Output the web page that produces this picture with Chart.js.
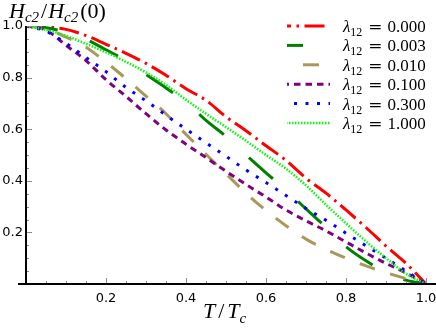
<!DOCTYPE html>
<html>
<head>
<meta charset="utf-8">
<script src="https://cdn.jsdelivr.net/npm/chart.js@4.4.0/dist/chart.umd.min.js"></script>
<style>
  html, body { margin: 0; padding: 0; background: #fff; }
  #wrap { width: 436px; height: 328px; }
</style>
</head>
<body>
<div id="wrap"><canvas id="hc2" width="436" height="328"></canvas></div>
<script>
// reduced temperature T/Tc
const temps = [0.00, 0.05, 0.10, 0.15, 0.20, 0.25, 0.30, 0.35, 0.40, 0.45, 0.50,
               0.55, 0.60, 0.65, 0.70, 0.75, 0.80, 0.85, 0.90, 0.95, 1.00];

// Hc2(T)/Hc2(0), one list per interband coupling
const hc2_000 = [1.000, 0.997, 0.987, 0.963, 0.929, 0.894, 0.855, 0.809, 0.757, 0.712, 0.648,
                 0.594, 0.536, 0.479, 0.410, 0.352, 0.287, 0.219, 0.147, 0.080, 0.000];
const hc2_003 = [1.000, 0.993, 0.976, 0.948, 0.908, 0.865, 0.812, 0.760, 0.705, 0.634, 0.572,
                 0.500, 0.431, 0.364, 0.291, 0.220, 0.145, 0.090, 0.045, 0.015, 0.000];
const hc2_010 = [1.000, 0.990, 0.957, 0.918, 0.860, 0.796, 0.728, 0.660, 0.580, 0.503, 0.427,
                 0.352, 0.285, 0.226, 0.174, 0.134, 0.100, 0.070, 0.044, 0.021, 0.000];
const hc2_100 = [1.000, 0.984, 0.925, 0.866, 0.792, 0.727, 0.660, 0.597, 0.542, 0.490, 0.437,
                 0.386, 0.337, 0.287, 0.245, 0.206, 0.163, 0.120, 0.080, 0.043, 0.000];
const hc2_300 = [1.000, 0.980, 0.933, 0.878, 0.823, 0.762, 0.710, 0.654, 0.600, 0.547, 0.495,
                 0.442, 0.393, 0.343, 0.293, 0.247, 0.197, 0.148, 0.100, 0.050, 0.000];
const hc2_1000 = [1.000, 0.985, 0.962, 0.931, 0.898, 0.861, 0.820, 0.772, 0.714, 0.660, 0.608,
                  0.555, 0.500, 0.447, 0.382, 0.307, 0.235, 0.165, 0.100, 0.040, 0.000];

const lambdaValues = ["0.000", "0.003", "0.010", "0.100", "0.300", "1.000"];
const seriesValues = [hc2_000, hc2_003, hc2_010, hc2_100, hc2_300, hc2_1000];

const lineStyles = [
    { color: '#ff0000', dash: [20, 5.5, 2.5, 5.5], width: 3 },
    { color: '#008000', dash: [32, 34], width: 3 },
    { color: '#a8985a', dash: [16, 16], width: 3 },
    { color: '#800080', dash: [6.5, 5], width: 3 },
    { color: '#0000ff', dash: [3, 8.5], width: 3 },
    { color: '#00ff00', dash: [1.5, 1.5], width: 2.5 }
];

const serif = '"Liberation Serif", "DejaVu Serif", serif';

function drawRuns(ctx, x, y, runs) {
    runs.forEach(r => {
        if (r.gap) { x += r.gap; return; }
        ctx.font = r.font;
        ctx.fillText(r.text, x, y + (r.dy || 0));
        x += ctx.measureText(r.text).width;
    });
    return x;
}

const decorations = {
    id: 'decorations',
    afterDraw(chart) {
        const ctx = chart.ctx;
        const xs = chart.scales.x, ys = chart.scales.y;
        const x0 = xs.getPixelForValue(0), y0 = ys.getPixelForValue(0);
        const y1 = ys.getPixelForValue(1);
        ctx.save();

        // inward ticks, major every 0.2
        ctx.strokeStyle = '#8c8c8c';
        ctx.lineWidth = 1;
        for (let i = 1; i <= 20; i++) {
            const len = i % 4 === 0 ? 6 : 3;
            const px = Math.round(xs.getPixelForValue(i * 0.05)) + 0.5;
            ctx.beginPath(); ctx.moveTo(px, y0); ctx.lineTo(px, y0 - len); ctx.stroke();
            const py = Math.round(ys.getPixelForValue(i * 0.05)) + 0.5;
            ctx.beginPath(); ctx.moveTo(x0, py); ctx.lineTo(x0 + len, py); ctx.stroke();
        }

        // spines
        ctx.strokeStyle = '#000';
        ctx.lineWidth = 2;
        ctx.beginPath();
        ctx.moveTo(x0 - 8, y0); ctx.lineTo(chart.width, y0);
        ctx.moveTo(x0, y0); ctx.lineTo(x0, y1);
        ctx.stroke();

        // axis titles
        ctx.fillStyle = '#000';
        ctx.textBaseline = 'alphabetic';
        ctx.textAlign = 'left';
        drawRuns(ctx, 9, 18, [
            { text: 'H', font: 'italic 22px ' + serif },
            { text: 'c2', font: 'italic 15px ' + serif, dy: 4 },
            { gap: 2 },
            { text: '/', font: '22px ' + serif },
            { gap: 1 },
            { text: 'H', font: 'italic 22px ' + serif },
            { text: 'c2', font: 'italic 15px ' + serif, dy: 4 },
            { gap: 2 },
            { text: '(0)', font: '22px ' + serif }
        ]);
        drawRuns(ctx, 203, 318, [
            { text: 'T', font: 'italic 22px ' + serif },
            { gap: 3 },
            { text: '/', font: '22px ' + serif },
            { gap: 3 },
            { text: 'T', font: 'italic 22px ' + serif },
            { text: 'c', font: 'italic 15px ' + serif, dy: 5 }
        ]);

        // legend
        chart.data.datasets.forEach((ds, i) => {
            const rowY = 26 + i * 19.4;
            ctx.strokeStyle = ds.borderColor;
            ctx.lineWidth = ds.borderWidth;
            ctx.setLineDash(ds.borderDash);
            ctx.lineDashOffset = 16;
            ctx.beginPath(); ctx.moveTo(287, rowY); ctx.lineTo(330, rowY); ctx.stroke();
            ctx.setLineDash([]);
            drawRuns(ctx, 343, rowY + 6, [
                { text: 'λ', font: 'italic 17px ' + serif },
                { text: '12', font: '12px ' + serif, dy: 4 },
                { gap: 6 },
                { text: '=', font: '17px "DejaVu Serif", serif' },
                { gap: 5 },
                { text: lambdaValues[i], font: '17px ' + serif }
            ]);
        });
        ctx.restore();
    }
};

const tickFont = { family: '"DejaVu Sans", sans-serif', size: 13 };

new Chart(document.getElementById('hc2'), {
    type: 'line',
    data: {
        datasets: seriesValues.map((vals, i) => ({
            label: 'λ12 = ' + lambdaValues[i],
            data: temps.map((t, k) => ({ x: t, y: vals[k] })),
            borderColor: lineStyles[i].color,
            borderDash: lineStyles[i].dash,
            borderWidth: lineStyles[i].width,
            borderCapStyle: 'butt',
            cubicInterpolationMode: 'monotone',
            pointRadius: 0,
            fill: false,
            order: seriesValues.length - i
        }))
    },
    options: {
        responsive: false,
        animation: false,
        devicePixelRatio: 1,
        layout: { padding: { top: 26, right: 10, left: 0, bottom: 0 } },
        plugins: { legend: { display: false }, tooltip: { enabled: false } },
        scales: {
            x: {
                type: 'linear', min: 0, max: 1,
                grid: { display: false, drawTicks: false },
                border: { display: false },
                ticks: {
                    stepSize: 0.2, padding: 7, maxRotation: 0, color: '#000', font: tickFont,
                    callback: v => v === 0 ? '' : v.toFixed(1)
                },
                afterFit: s => { s.height = 44; s.paddingLeft = 0; s.paddingRight = 0; }
            },
            y: {
                type: 'linear', min: 0, max: 1,
                grid: { display: false, drawTicks: false },
                border: { display: false },
                ticks: {
                    stepSize: 0.2, padding: 3, color: '#000', font: tickFont,
                    callback: v => v === 0 ? '' : v.toFixed(1)
                },
                afterFit: s => { s.width = 26; s.paddingTop = 0; s.paddingBottom = 0; }
            }
        }
    },
    plugins: [decorations]
});
</script>
</body>
</html>
